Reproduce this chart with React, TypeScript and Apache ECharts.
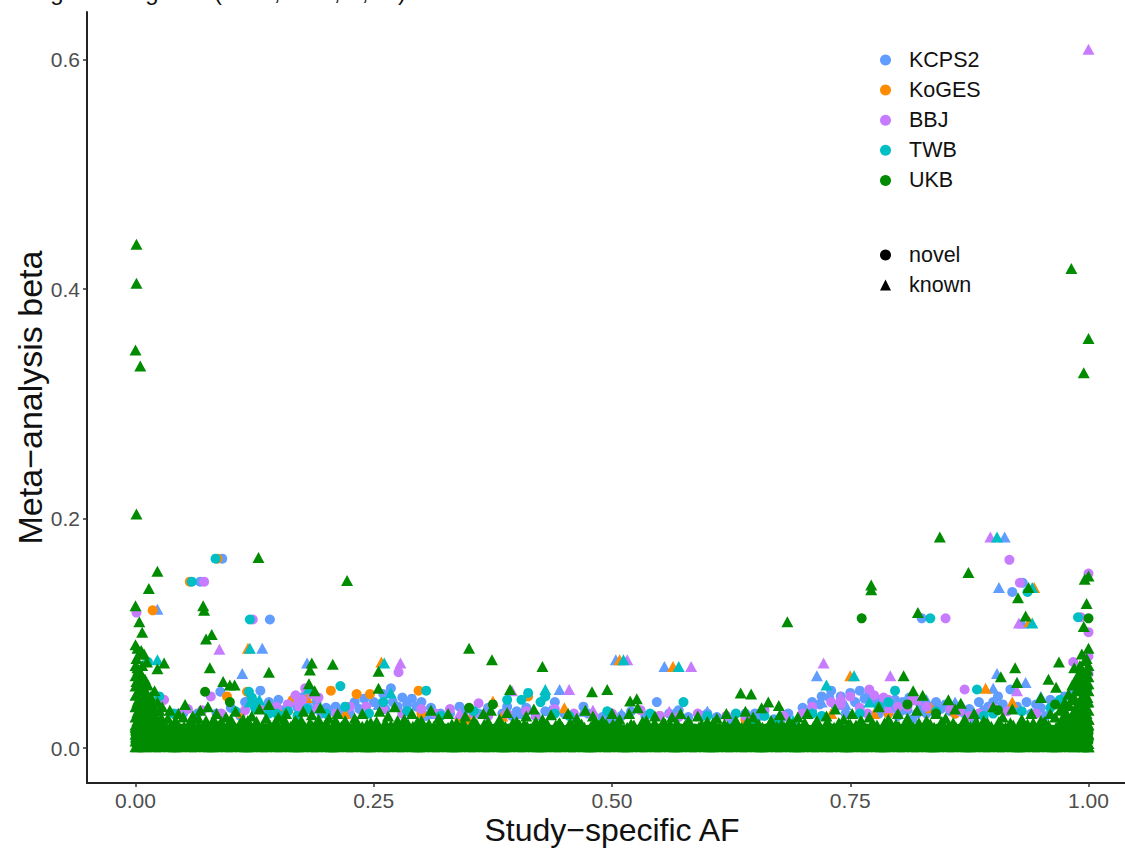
import React, { useEffect, useRef } from "react";
import * as echarts from "echarts";

const studies = ["KCPS2", "KoGES", "BBJ", "TWB", "UKB"];
const colors = ["#619CFF", "#FF8C00", "#C77CFF", "#00BFC4", "#008B00"];
const xTicks = [0, 0.25, 0.5, 0.75, 1];
const yTicks = [0, 0.2, 0.4, 0.6];
const titleGlyphs: [string, number][] = [["g", 57], ["g", 152], ["(", 218], [",", 277], [",", 337], [",", 365], [")", 402]];

// flat lists: x, y, x, y ...
const kcpsNovel = [.089,.049,.091,.165,.068,.145,.141,.112,.131,.05,.02,.03,.05,.03,.065,.03,.085,.03,.1,.035,.11,.028,.115,.04,.14,.04,.15,.042,.155,.033,.17,.035,.18,.037,.19,.04,.195,.03,.2,.035,.215,.032,.23,.04,.24,.043,.25,.04,.26,.047,.268,.052,.27,.04,.28,.044,.29,.043,.3,.04,.31,.035,.32,.03,.33,.03,.345,.032,.36,.03,.37,.035,.385,.03,.395,.028,.41,.035,.42,.028,.43,.032,.44,.04,.45,.03,.46,.027,.475,.03,.49,.027,.5,.025,.52,.032,.535,.028,.547,.04,.56,.03,.58,.027,.595,.028,.61,.027,.625,.025,.64,.03,.655,.028,.67,.025,.685,.03,.7,.035,.71,.04,.72,.045,.73,.05,.74,.045,.745,.03,.755,.04,.76,.05,.765,.043,.775,.04,.78,.03,.79,.03,.795,.035,.8,.028,.805,.04,.81,.033,.815,.025,.825,.035,.83,.03,.84,.04,.85,.038,.86,.03,.87,.03,.88,.025,.89,.033,.9,.04,.905,.045,.918,.051,.92,.136,.931,.144,.825,.113,.94,.03,.95,.035,.96,.042,.975,.045,.985,.05,
.71,.032,.718,.038,.728,.044,.735,.036,.75,.048,.77,.048,.78,.042,.788,.036,.797,.042,.803,.032,.812,.044,.82,.03,.822,.04,.835,.036,.845,.034,.855,.032,.865,.036,.875,.034,.885,.04,.895,.036,.91,.038,.925,.036,.935,.04,.945,.038,.955,.028,.12,.042,.125,.036,.135,.034,.16,.038,.175,.044,.185,.033,.21,.036,.225,.03,.235,.034,.262,.034,.275,.036,.285,.038,.295,.036,.305,.028,.34,.036,.39,.036,.4,.032,.47,.036,.51,.028,.57,.033,.6,.03,.65,.03,.68,.027];
const kcpsKnown = [.023,.121,.133,.087,.112,.065,.18,.074,.504,.077,.555,.071,.445,.051,.906,.14,.912,.184,.931,.109,.925,.057,.934,.057,.715,.063,.904,.065,.9,.052,.165,.04,.175,.045,.205,.033,.255,.038,.31,.03,.405,.03,.435,.033,.47,.032,.51,.03,.565,.03,.6,.032,.72,.04,.745,.038,.785,.038,.83,.042,.86,.04,.95,.045];
const kogesNovel = [.018,.12,.086,.165,.057,.145,.205,.05,.232,.047,.297,.05,.096,.045,.117,.049,.246,.047,.165,.042,.11,.03,.15,.03,.3,.03,.34,.025,.412,.045,.55,.028,.64,.025,.79,.03,.86,.03];
const kogesKnown = [.118,.087,.258,.075,.375,.041,.508,.077,.564,.071,.75,.063,.892,.052,.943,.14,.938,.11,.18,.044,.16,.035,.22,.03,.35,.025,.385,.028,.45,.035,.73,.03,.775,.03,.835,.035,.92,.04];
const bbjNovel = [.001,.118,.072,.145,.123,.112,.079,.045,.276,.066,.36,.039,.85,.113,.917,.164,.928,.144,.992,.114,1,.101,1,.152,.87,.051,.77,.051,.984,.075,.03,.042,.055,.034,.09,.03,.16,.038,.175,.042,.178,.052,.185,.047,.21,.03,.26,.034,.28,.03,.33,.034,.37,.028,.41,.032,.44,.034,.5,.03,.53,.033,.59,.03,.62,.028,.66,.033,.7,.03,.73,.04,.75,.045,.76,.035,.785,.044,.8,.036,.815,.042,.84,.03,.855,.034,.875,.028,.9,.035,.945,.03,.99,.06,1,.08,1,.065,
.045,.03,.07,.033,.115,.033,.13,.034,.148,.036,.168,.046,.172,.036,.192,.044,.225,.036,.242,.036,.3,.034,.315,.03,.355,.03,.39,.03,.46,.03,.48,.028,.55,.028,.57,.027,.64,.028,.68,.028,.71,.036,.74,.038,.768,.03,.775,.046,.79,.042,.81,.036,.83,.036,.865,.032,.885,.03,.915,.032];
const bbjKnown = [1,.609,.088,.086,.278,.074,.516,.077,.583,.071,.455,.051,.722,.074,.792,.063,.897,.184,.927,.109,.925,.05,.17,.042,.19,.036,.34,.03,.395,.05,.42,.03,.48,.033,.56,.032,.74,.045,.82,.042,.79,.035];
const twbNovel = [.059,.145,.084,.165,.12,.112,.013,.075,.215,.054,.305,.05,.119,.049,.412,.048,.575,.04,.834,.113,.936,.136,.989,.114,.883,.051,.797,.05,.025,.045,.105,.032,.125,.04,.14,.03,.155,.028,.17,.028,.2,.03,.245,.03,.39,.042,.405,.042,.425,.04,.43,.045,.63,.03,.675,.025,.71,.03,.78,.036,.89,.028,.96,.035,.97,.042,
.022,.034,.04,.03,.122,.044,.126,.034,.148,.03,.16,.032,.18,.034,.22,.036,.26,.04,.285,.032,.32,.028,.355,.032,.44,.03,.455,.028,.495,.032,.54,.03,.6,.028,.66,.028,.72,.028,.76,.03,.79,.04,.84,.032,.9,.03,.93,.032];
const twbKnown = [.023,.077,.12,.087,.261,.074,.43,.051,.512,.077,.57,.071,.754,.063,.725,.055,.904,.184,.941,.14,.941,.109,.13,.042,.12,.04,.182,.052,.268,.048,.69,.024,.77,.04,.65,.025];
const ukbNovel = [.073,.049,.099,.04,.762,.113,1,.113,.81,.038,.84,.03,.905,.033,.35,.035,.375,.038,.965,.038];
const ukbOutliers = [.001,.439,.001,.405,0,.347,.005,.333,.001,.204,.982,.418,1,.357,.995,.327,.844,.184,.874,.153,.772,.142,.772,.138,.684,.11,.821,.118,.937,.14,.934,.115,.926,.131,1,.15,.996,.147,.998,.126,.995,.106,.129,.166,.222,.146,.071,.124,.072,.12,.08,.099,.074,.095,.078,.07,.14,.066,.207,.073,.185,.074,.183,.068,.255,.067,.092,.058,.099,.055,.104,.055,.182,.056,.188,.05,.255,.052,.35,.087,.374,.077,.427,.071,.393,.051,.479,.049,.495,.051,.519,.041,.526,.043,.635,.048,.646,.047,.664,.04,.675,.037,.806,.063,.923,.07,.908,.062,.925,.057,.816,.05,.826,.046,.853,.042,.866,.039,.023,.154,.014,.139,0,.124,.004,.11,.007,.101,.03,.074,.023,.069];
const ukbLeftStem = [0,.09,.002,.087,.004,.082,.001,.078,.006,.085,.009,.082,.012,.075,0,.072,.003,.068,.007,.072,0,.063,.003,.06,.006,.064,.01,.06,.013,.055,0,.054,.004,.05,.008,.052,.012,.048,.016,.045,.02,.05,0,.046,.003,.042,.007,.044,.011,.04,.015,.037,.019,.036,.023,.04,0,.036,.003,.033,.006,.036,.01,.031,.014,.029,0,.027,.004,.025,.008,.027,.012,.023,.017,.025,.021,.026,0,.02,.005,.019,.01,.021,
.002,.07,.005,.066,.001,.058,.005,.056,.009,.056,.002,.048,.006,.047,.01,.046,.014,.043,.002,.04,.005,.04,.009,.037,.013,.034,.017,.033,.021,.032,.025,.033,.002,.031,.006,.03,.01,.026,.014,.024,.019,.021,.024,.023,.028,.025,.002,.024,.006,.022,.001,.016,.004,.014,.001,.01,.002,.005,0,.012,0,.006];
const ukbRightStem = [1,.087,.993,.082,.998,.078,.991,.072,1,.072,.985,.07,.995,.066,1,.062,.988,.062,.993,.058,.998,.055,.983,.055,.99,.05,.996,.048,1,.05,.979,.047,.985,.044,.992,.042,.998,.04,.975,.04,.98,.037,.987,.035,.994,.034,1,.033,.97,.033,.977,.03,.983,.028,.99,.027,.996,.026,1,.025,.965,.027,.972,.025,.979,.022,.986,.02,.994,.02,.969,.075,.966,.053,.958,.06,.95,.044,
.996,.076,.999,.068,.992,.065,.996,.06,.986,.058,.991,.054,1,.056,.987,.05,.994,.046,.999,.044,.982,.042,.989,.039,.996,.037,1,.04,.973,.036,.985,.032,.992,.031,.998,.03,.975,.028,.981,.025,.988,.024,.994,.024,1,.02,.998,.015,.999,.008,1,.012,1,.004];
const ukbRidge = [.028,.036,.036,.033,.045,.03,.052,.038,.06,.028,.068,.033,.076,.036,.085,.03,.095,.027,.105,.032,.113,.025,.122,.028,.13,.034,.14,.038,.15,.027,.158,.03,.168,.024,.176,.032,.185,.029,.194,.035,.203,.026,.212,.03,.22,.024,.23,.026,.238,.03,.247,.022,.256,.032,.265,.028,.272,.036,.282,.025,.29,.03,.3,.024,.31,.033,.318,.026,.328,.03,.337,.022,.346,.028,.355,.024,.365,.03,.373,.033,.382,.025,.39,.031,.4,.023,.41,.028,.418,.034,.427,.025,.436,.029,.445,.022,.454,.03,.463,.026,.472,.033,.48,.028,.49,.024,.5,.03,.508,.025,.518,.03,.527,.035,.536,.024,.545,.028,.554,.023,.563,.027,.572,.03,.58,.024,.59,.028,.6,.023,.61,.026,.62,.03,.63,.024,.64,.032,.648,.027,.657,.035,.667,.024,.676,.029,.686,.023,.695,.027,.705,.03,.715,.024,.725,.028,.734,.034,.743,.025,.752,.03,.761,.024,.77,.027,.78,.036,.79,.025,.8,.03,.81,.026,.82,.033,.83,.024,.84,.03,.85,.026,.86,.034,.87,.025,.88,.03,.89,.024,.9,.036,.91,.027,.92,.034,.93,.025,.94,.03,.95,.024,.96,.03];
const ukbShoulder = [.026,.024,.034,.026,.042,.024,.05,.027,.058,.024,.066,.026,.074,.024,.082,.025,.09,.023,.1,.025,.11,.022,.118,.024,.127,.023,.137,.026,.147,.023,.156,.025,.166,.022,.174,.024,.183,.022,.192,.025,.2,.022,.21,.024,.22,.021,.232,.023,.243,.021,.253,.023,.262,.022,.275,.024,.286,.021,.296,.023,.308,.021,.32,.023,.332,.021,.344,.022,.358,.021,.37,.023,.384,.021,.396,.022,.408,.021,.42,.023,.432,.021,.444,.021,.456,.022,.468,.021,.482,.023,.494,.021,.506,.022,.52,.021,.532,.023,.544,.021,.556,.021,.568,.022,.582,.021,.594,.021,.606,.022,.618,.021,.63,.022,.642,.023,.654,.021,.666,.022,.678,.021,.69,.021,.702,.022,.714,.021,.726,.023,.738,.022,.75,.021,.762,.023,.774,.021,.786,.022,.798,.021,.81,.023,.822,.022,.834,.021,.846,.023,.858,.022,.87,.021,.882,.023,.894,.022,.906,.023,.918,.022,.93,.023,.942,.022,.954,.023];
const ukbBandX = [0,.003,.008,.014,.021,.028,.036,.043,.051,.058,.066,.073,.081,.088,.096,.103,.111,.118,.126,.133,.141,.148,.156,.163,.171,.178,.186,.193,.201,.208,.216,.223,.231,.238,.246,.253,.261,.268,.276,.283,.291,.298,.306,.313,.321,.328,.336,.343,.351,.358,.366,.373,.381,.388,.396,.403,.411,.418,.426,.433,.441,.448,.456,.463,.471,.478,.486,.493,.501,.508,.516,.523,.531,.538,.546,.553,.561,.568,.576,.583,.591,.598,.606,.613,.621,.628,.636,.643,.651,.658,.666,.673,.681,.688,.696,.703,.711,.718,.726,.733,.741,.748,.756,.763,.771,.778,.786,.793,.801,.808,.816,.823,.831,.838,.846,.853,.861,.868,.876,.883,.891,.898,.906,.913,.921,.928,.936,.943,.951,.958,.966,.973,.981,.988,.993,.997,1];
const ukbBandX2 = [.002,.006,.011,.018,.025,.032,.04,.047,.055,.062,.07,.077,.085,.092,.1,.107,.115,.122,.13,.137,.145,.152,.16,.167,.175,.182,.19,.197,.205,.212,.22,.227,.235,.242,.25,.257,.265,.272,.28,.287,.295,.302,.31,.317,.325,.332,.34,.347,.355,.362,.37,.377,.385,.392,.4,.407,.415,.422,.43,.437,.445,.452,.46,.467,.475,.482,.49,.497,.505,.512,.52,.527,.535,.542,.55,.557,.565,.572,.58,.587,.595,.602,.61,.617,.625,.632,.64,.647,.655,.662,.67,.677,.685,.692,.7,.707,.715,.722,.73,.737,.745,.752,.76,.767,.775,.782,.79,.797,.805,.812,.82,.827,.835,.842,.85,.857,.865,.872,.88,.887,.895,.902,.91,.917,.925,.932,.94,.947,.955,.962,.97,.977,.985,.99,.995,.998,1];
const ukbBandLow = [.001,.002,.001,.002,.001,.002,.001,.001,.002,.001,.002,.001,.001,.002,.001,.002,.001,.001,.002,.001,.002,.001,.002,.001,.001,.002,.001,.002,.001,.001,.002,.001,.002,.001,.001,.002,.001,.002,.001,.002,.001,.001,.002,.001,.002,.001,.001,.002,.001,.002,.001,.002,.001,.001,.002,.001,.002,.001,.001,.002,.001,.002,.001,.002,.001,.001,.002,.001,.002,.001,.001,.002,.001,.002,.001,.002,.001,.001,.002,.001,.002,.001,.001,.002,.001,.002,.001,.002,.001,.001,.002,.001,.002,.001,.001,.002,.001,.002,.001,.002,.001,.001,.002,.001,.002,.001,.001,.002,.001,.002,.001,.002,.001,.001,.002,.001,.002,.001,.001,.002,.001,.002,.001,.002,.001,.001,.002,.001,.002,.001,.001,.002,.001,.002,.001,.002,.001];
const ukbNovelLow = [.005,.006,.005,.006,.005,.006,.006,.005,.006,.005,.005,.006,.005,.006,.006,.005,.006,.005,.005,.006,.005,.006,.005,.006,.006,.005,.006,.005,.005,.006,.005,.006,.006,.005,.006,.005,.005,.006,.005,.006,.005,.006,.006,.005,.006,.005,.005,.006,.005,.006,.006,.005,.006,.005,.005,.006,.005,.006,.005,.006,.006,.005,.006,.005,.005,.006,.005,.006,.006,.005,.006,.005,.005,.006,.005,.006,.005,.006,.006,.005,.006,.005,.005,.006,.005,.006,.006,.005,.006,.005,.005,.006,.005,.006,.005,.006,.006,.005,.006,.005,.005,.006,.005,.006,.006,.005,.006,.005,.005,.006,.005,.006,.005,.006,.006,.005,.006,.005,.005,.006,.005,.006,.006,.005,.006,.005,.005,.006,.005,.006,.005,.006,.006,.005,.006,.005,.006];
const ukbNovelMid = [.012,.013,.012,.013,.012,.013,.013,.012,.013,.012,.012,.013,.012,.013,.013,.012,.013,.012,.012,.013,.012,.013,.012,.013,.013,.012,.013,.012,.012,.013,.012,.013,.013,.012,.013,.012,.012,.013,.012,.013,.012,.013,.013,.012,.013,.012,.012,.013,.012,.013,.013,.012,.013,.012,.012,.013,.012,.013,.012,.013,.013,.012,.013,.012,.012,.013,.012,.013,.013,.012,.013,.012,.012,.013,.012,.013,.012,.013,.013,.012,.013,.012,.012,.013,.012,.013,.013,.012,.013,.012,.012,.013,.012,.013,.012,.013,.013,.012,.013,.012,.012,.013,.012,.013,.013,.012,.013,.012,.012,.013,.012,.013,.012,.013,.013,.012,.013,.012,.012,.013,.012,.013,.013,.012,.013,.012,.012,.013,.012,.013,.012,.013,.013,.012,.013,.012,.013];
const ukbNovelA = [.009,.008,.009,.009,.008,.009,.008,.009,.009,.008,.009,.008,.009,.008,.009,.009,.008,.009,.008,.009,.009,.008,.009,.008,.009,.008,.009,.009,.008,.009,.008,.009,.009,.008,.009,.008,.009,.008,.009,.009,.008,.009,.008,.009,.009,.008,.009,.008,.009,.008,.009,.009,.008,.009,.008,.009,.009,.008,.009,.008,.009,.008,.009,.009,.008,.009,.008,.009,.009,.008,.009,.008,.009,.008,.009,.009,.008,.009,.008,.009,.009,.008,.009,.008,.009,.008,.009,.009,.008,.009,.008,.009,.009,.008,.009,.008,.009,.008,.009,.009,.008,.009,.008,.009,.009,.008,.009,.008,.009,.008,.009,.009,.008,.009,.008,.009,.009,.008,.009,.008,.009,.008,.009,.009,.008,.009,.008,.009,.009,.008,.009,.008,.009,.008,.009,.009,.008];
const ukbNovelB = [.017,.016,.017,.017,.016,.017,.016,.017,.017,.016,.017,.016,.017,.016,.017,.017,.016,.017,.016,.017,.017,.016,.017,.016,.017,.016,.017,.017,.016,.017,.016,.017,.017,.016,.017,.016,.017,.016,.017,.017,.016,.017,.016,.017,.017,.016,.017,.016,.017,.016,.017,.017,.016,.017,.016,.017,.017,.016,.017,.016,.017,.016,.017,.017,.016,.017,.016,.017,.017,.016,.017,.016,.017,.016,.017,.017,.016,.017,.016,.017,.017,.016,.017,.016,.017,.016,.017,.017,.016,.017,.016,.017,.017,.016,.017,.016,.017,.016,.017,.017,.016,.017,.016,.017,.017,.016,.017,.016,.017,.016,.017,.017,.016,.017,.016,.017,.017,.016,.017,.016,.017,.016,.017,.017,.016,.017,.016,.017,.017,.016,.017,.016,.017,.016,.017,.017,.016];
const ukbBandTop = [.018,.019,.018,.02,.021,.019,.018,.02,.019,.018,.02,.021,.019,.02,.018,.019,.021,.02,.018,.019,.02,.018,.021,.019,.02,.018,.019,.021,.018,.02,.019,.018,.02,.019,.021,.018,.019,.02,.018,.02,.019,.021,.018,.019,.02,.018,.019,.02,.018,.019,.021,.018,.02,.019,.018,.02,.019,.018,.021,.019,.02,.018,.019,.02,.018,.019,.02,.018,.021,.019,.018,.02,.019,.018,.02,.019,.021,.018,.019,.02,.018,.019,.02,.018,.019,.021,.018,.02,.019,.018,.02,.019,.018,.02,.019,.021,.018,.019,.02,.018,.019,.021,.02,.018,.019,.02,.018,.021,.019,.02,.018,.019,.021,.018,.02,.019,.018,.02,.019,.021,.018,.019,.02,.018,.02,.019,.021,.018,.019,.02,.018,.019,.021,.02,.022,.024,.025];

const pairs = (flat: number[]) => {
  const out: number[][] = [];
  for (let i = 0; i < flat.length; i += 2) out.push([flat[i], flat[i + 1]]);
  return out;
};
const zipBand = (xs: number[], ys: number[]) => xs.map((x, i) => [x, ys[i]]);

const novelLists = [kcpsNovel, kogesNovel, bbjNovel, twbNovel, ukbNovel];
const knownLists = [kcpsKnown, kogesKnown, bbjKnown, twbKnown, []];

export default function App() {
  const ref = useRef<HTMLDivElement>(null);
  useEffect(() => {
    const chart = echarts.init(ref.current!, null, { renderer: "svg" });
    const scatter = (name: string, color: string, symbol: string, size: any, data: number[][]) => ({
      type: "scatter", name, symbol, symbolSize: size, data, silent: true, large: false, progressive: 0,
      itemStyle: { color, opacity: 1 },
    });
    const tri = [12, 11];
    const series: any[] = [];
    studies.forEach((s, i) => {
      if (i < 4) {
        series.push(scatter(s, colors[i], "circle", 10, pairs(novelLists[i])));
        series.push(scatter(s, colors[i], "triangle", tri, pairs(knownLists[i])));
      }
    });
    series.push(scatter("UKB", colors[4], "circle", 10, [
      ...zipBand(ukbBandX, ukbNovelLow), ...zipBand(ukbBandX, ukbNovelMid),
      ...zipBand(ukbBandX2, ukbNovelA), ...zipBand(ukbBandX2, ukbNovelB), ...pairs(ukbNovel),
    ]));
    series.push(scatter("UKB", colors[4], "triangle", tri, [
      ...zipBand(ukbBandX, ukbBandLow), ...zipBand(ukbBandX2, ukbBandLow), ...zipBand(ukbBandX, ukbBandTop), ...pairs(ukbShoulder),
      ...pairs(ukbRidge), ...pairs(ukbLeftStem), ...pairs(ukbRightStem), ...pairs(ukbOutliers),
    ]));
    series.push(scatter("novel", "#000000", "circle", 10, []));
    series.push(scatter("known", "#000000", "triangle", 10, []));

    const legendBase = {
      orient: "vertical", left: 875, itemWidth: 11, itemHeight: 11, selectedMode: false,
      textStyle: { fontFamily: "Liberation Sans", fontSize: 21.5, color: "#111", padding: [0, 0, 0, 13] },
    };
    chart.setOption({
      animation: false,
      backgroundColor: "#fff",
      textStyle: { fontFamily: "Liberation Sans" },
      grid: { left: 87, right: 0, top: 12, bottom: 65, containLabel: false, outerBoundsMode: "none" },
      xAxis: {
        type: "value", min: -0.0509, max: 1.0383,
        name: "Study\u2212specific AF", nameLocation: "middle", nameGap: 31, nameMoveOverlap: false,
        nameTextStyle: { fontSize: 32, color: "#111", padding: [0, 0, 0, 12] },
        axisLine: { onZero: false, lineStyle: { color: "#222", width: 2 } },
        axisTick: { show: true, length: 4, lineStyle: { color: "#333", width: 1.5 }, customValues: xTicks },
        axisLabel: { fontSize: 21, color: "#4d4d4d", margin: 7, customValues: xTicks, formatter: (v: number) => v.toFixed(2) },
        splitLine: { show: false },
      },
      yAxis: {
        type: "value", min: -0.0305, max: 0.6415,
        name: "Meta\u2212analysis beta", nameLocation: "middle", nameGap: 40, nameMoveOverlap: false,
        nameTextStyle: { fontSize: 34, color: "#111" },
        axisLine: { onZero: false, lineStyle: { color: "#222", width: 2 } },
        axisTick: { show: true, length: 4, lineStyle: { color: "#333", width: 1.5 }, customValues: yTicks },
        axisLabel: { fontSize: 21, color: "#4d4d4d", margin: 7, customValues: yTicks, formatter: (v: number) => v.toFixed(1) },
        splitLine: { show: false },
      },
      legend: [
        { ...legendBase, top: 44, itemGap: 8.1, data: studies.map((name) => ({ name, icon: "circle" })) },
        { ...legendBase, top: 239, itemGap: 8.1, data: [{ name: "novel", icon: "circle" }, { name: "known", icon: "triangle" }] },
      ],
      series,
      graphic: titleGlyphs.map(([text, x]) => ({
        type: "text", x, y: 3, style: { text, fontFamily: "Liberation Sans", fontSize: 24, fill: "#111", verticalAlign: "bottom", align: "center" },
      })),
    });
    return () => chart.dispose();
  }, []);
  return <div ref={ref} style={{ position: "fixed", left: 0, top: 0, width: 1125, height: 848 }} />;
}
